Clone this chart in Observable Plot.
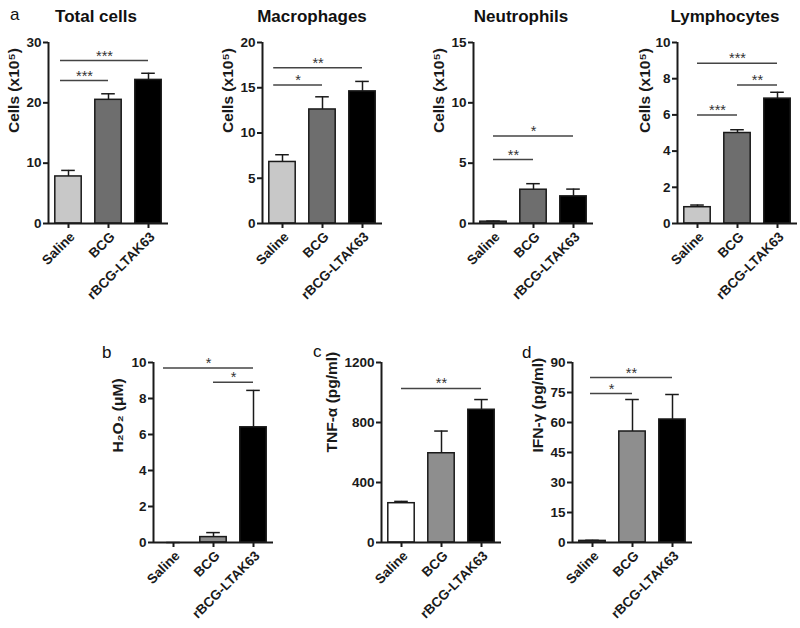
<!DOCTYPE html>
<html><head><meta charset="utf-8">
<script src="https://cdn.jsdelivr.net/npm/d3@7"></script>
<script src="https://cdn.jsdelivr.net/npm/@observablehq/plot@0.6"></script>
<style>
html,body{margin:0;padding:0;background:#fff;}
#fig{position:relative;width:800px;height:628px;overflow:hidden;font-family:"Liberation Sans",Arial,sans-serif;background:#fff;}
.ttl{position:absolute;font-weight:bold;font-size:17px;line-height:1;transform:translateX(-50%);white-space:nowrap;color:#111;}
.let{position:absolute;font-size:17px;line-height:1;color:#111;}
.pl{position:absolute;}
</style></head><body><div id="fig"></div>
<script>
// ---------- data ----------
const groups = ["Saline", "BCG", "rBCG-LTAK63"];

const totalMean = [7.8, 20.5, 23.8];
const totalSem  = [1.0, 1.0, 1.1];
const totalSig  = [{a: "Saline", b: "BCG", y: 23.7, p: "***"}, {a: "Saline", b: "rBCG-LTAK63", y: 27.0, p: "***"}];

const macroMean = [6.8, 12.6, 14.6];
const macroSem  = [0.8, 1.4, 1.1];
const macroSig  = [{a: "Saline", b: "BCG", y: 15.3, p: "*"}, {a: "Saline", b: "rBCG-LTAK63", y: 17.2, p: "**"}];

const neutMean = [0.15, 2.8, 2.25];
const neutSem  = [0.05, 0.5, 0.6];
const neutSig  = [{a: "Saline", b: "BCG", y: 5.3, p: "**"}, {a: "Saline", b: "rBCG-LTAK63", y: 7.25, p: "*"}];

const lymphMean = [0.9, 5.0, 6.9];
const lymphSem  = [0.12, 0.18, 0.35];
const lymphSig  = [{a: "Saline", b: "BCG", y: 6.0, p: "***"}, {a: "BCG", b: "rBCG-LTAK63", y: 7.65, p: "**"}, {a: "Saline", b: "rBCG-LTAK63", y: 8.85, p: "***"}];

const h2o2Mean = [0, 0.3, 6.4];
const h2o2Sem  = [0, 0.25, 2.05];
const h2o2Sig  = [{a: "Saline", b: "rBCG-LTAK63", y: 9.7, p: "*"}, {a: "BCG", b: "rBCG-LTAK63", y: 8.9, p: "*"}];

const tnfMean = [262, 595, 885];
const tnfSem  = [12, 148, 68];
const tnfSig  = [{a: "Saline", b: "rBCG-LTAK63", y: 1027, p: "**"}];

const ifnMean = [0.8, 55.5, 61.5];
const ifnSem  = [0.3, 16, 12.5];
const ifnSig  = [{a: "Saline", b: "BCG", y: 74.5, p: "*"}, {a: "Saline", b: "rBCG-LTAK63", y: 82.5, p: "**"}];

const topTicks = {total: [0, 10, 20, 30], macro: [0, 5, 10, 15, 20], neut: [0, 5, 10, 15], lymph: [0, 2, 4, 6, 8, 10]};
const botTicks = {h2o2: [0, 2, 4, 6, 8, 10], tnf: [0, 400, 800, 1200], ifn: [0, 15, 30, 45, 60, 75, 90]};

// ---------- style ----------
const topColors = ["#c8c8c8", "#6e6e6e", "#000000"];
const botColors = ["#ffffff", "#8e8e8e", "#000000"];
const ink = "#1a1a1a";
const font = "'Liberation Sans', Arial, sans-serif";

const fig = document.getElementById("fig");

function panel({mean, sem, sig, colors, yMax, yTicks, ylabel, axisX, yTop, y0, lead = 0, labelOffset = 34}) {
  const idx = g => groups.indexOf(g);
  const data = groups.map((g, i) => ({g, i, m: mean[i], e: sem[i], c: colors[i]}));
  const mL = 72, mR = 14, mT = 30, mB = 100;
  const svg = Plot.plot({
    width: mL + 120 + mR,
    height: mT + (y0 - yTop) + mB,
    marginLeft: mL, marginRight: mR, marginTop: mT, marginBottom: mB,
    x: {type: "linear", domain: [-0.5, 2.5], axis: null},
    y: {domain: [0, yMax], axis: null},
    color: {type: "identity"},
    style: {background: "transparent", overflow: "visible", fontFamily: font, maxWidth: "none"},
    marks: [
      Plot.rectY(data, {x1: d => d.i - 0.33, x2: d => d.i + 0.33, y1: 0, y2: "m", fill: "c", stroke: ink, strokeWidth: 1.5}),
      Plot.ruleX(data, {x: "i", y1: "m", y2: d => d.m + d.e, stroke: ink, strokeWidth: 1.5}),
      Plot.ruleY(data, {y: d => d.m + d.e, x1: d => d.i - 0.17, x2: d => d.i + 0.17, stroke: ink, strokeWidth: 1.5}),
      Plot.ruleX([-0.5], {y1: 0, y2: yMax, stroke: ink, strokeWidth: 2}),
      Plot.ruleY([0], {x1: -0.5, x2: 2.5, stroke: ink, strokeWidth: 2}),
      Plot.axisY({ticks: yTicks, tickSize: 5, tickPadding: 2, tickFormat: d => String(d), fontWeight: "bold", fontSize: 13.5, color: ink, strokeWidth: 2, label: null}),
      Plot.axisX({ticks: [0, 1, 2], tickSize: 5, tickFormat: () => "", color: ink, strokeWidth: 2, label: null}),
      Plot.axisX({ticks: [0, 1, 2], tickFormat: i => groups[i], tickRotate: -45, tickSize: 0, tickPadding: 8, dx: 4, dy: 3, fontWeight: "bold", fontSize: 13.5, color: ink, label: null}),
      Plot.text([ylabel], {frameAnchor: "left", dx: -labelOffset, rotate: -90, fontWeight: "bold", fontSize: 15.5, fill: ink}),
      Plot.ruleY(sig, {y: "y", x1: d => idx(d.a) - (d.a === "Saline" ? lead : 0), x2: d => idx(d.b), stroke: "#444", strokeWidth: 1.5}),
      Plot.text(sig, {x: d => (idx(d.a) - (d.a === "Saline" ? lead : 0) + idx(d.b)) / 2, y: "y", text: "p", lineAnchor: "bottom", dy: 0, fontSize: 14.5, fill: "#333"})
    ]
  });
  svg.classList.add("pl");
  svg.style.left = (axisX - mL) + "px";
  svg.style.top = (yTop - mT) + "px";
  fig.appendChild(svg);
}

const cellsLabel = "Cells (x10\u2075)";
panel({mean: totalMean, sem: totalSem, sig: totalSig, colors: topColors, yMax: 30, yTicks: topTicks.total, ylabel: cellsLabel, axisX: 48, yTop: 42, y0: 223, lead: 0.2});
panel({mean: macroMean, sem: macroSem, sig: macroSig, colors: topColors, yMax: 20, yTicks: topTicks.macro, ylabel: cellsLabel, axisX: 262, yTop: 42, y0: 223, lead: 0.22});
panel({mean: neutMean, sem: neutSem, sig: neutSig, colors: topColors, yMax: 15, yTicks: topTicks.neut, ylabel: cellsLabel, axisX: 473, yTop: 42, y0: 223});
panel({mean: lymphMean, sem: lymphSem, sig: lymphSig, colors: topColors, yMax: 10, yTicks: topTicks.lymph, ylabel: cellsLabel, axisX: 677, yTop: 42, y0: 223, labelOffset: 32});
panel({mean: h2o2Mean, sem: h2o2Sem, sig: h2o2Sig, colors: botColors, yMax: 10, yTicks: botTicks.h2o2, ylabel: "H\u2082O\u2082 (\u03bcM)", axisX: 153, yTop: 362, y0: 542, lead: 0.25, labelOffset: 35});
panel({mean: tnfMean, sem: tnfSem, sig: tnfSig, colors: botColors, yMax: 1200, yTicks: botTicks.tnf, ylabel: "TNF-\u03b1 (pg/ml)", axisX: 381, yTop: 362, y0: 542, labelOffset: 49});
panel({mean: ifnMean, sem: ifnSem, sig: ifnSig, colors: botColors, yMax: 90, yTicks: botTicks.ifn, ylabel: "IFN-\u03b3 (pg/ml)", axisX: 572, yTop: 362, y0: 542, lead: 0.05, labelOffset: 34});

// titles and panel letters
const titles = [["Total cells", 96], ["Macrophages", 312], ["Neutrophils", 521], ["Lymphocytes", 725]];
titles.forEach(([t, x]) => {
  const d = document.createElement("div"); d.className = "ttl"; d.textContent = t;
  d.style.left = x + "px"; d.style.top = "8px"; fig.appendChild(d);
});
const letters = [["a", 10, 6], ["b", 102, 344], ["c", 313, 343], ["d", 522, 344]];
letters.forEach(([t, x, y]) => {
  const d = document.createElement("div"); d.className = "let"; d.textContent = t;
  d.style.left = x + "px"; d.style.top = y + "px"; fig.appendChild(d);
});
</script></body></html>
